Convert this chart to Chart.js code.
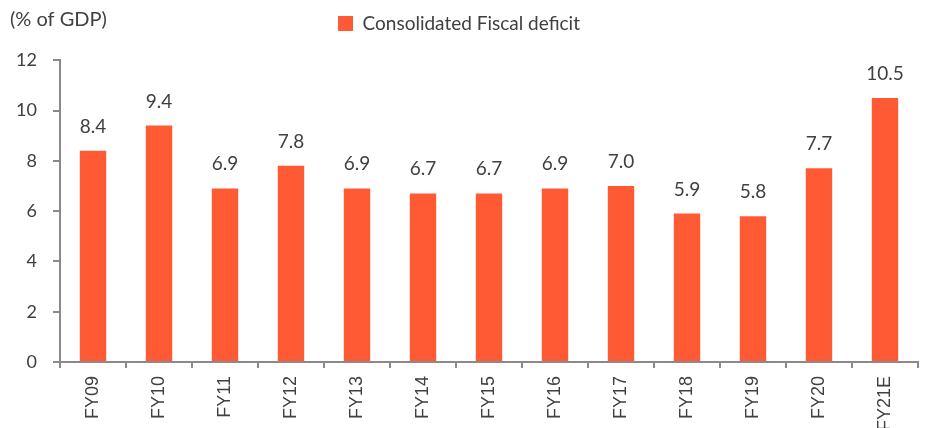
<!DOCTYPE html>
<html>
<head>
<meta charset="utf-8">
<script src="https://cdn.jsdelivr.net/npm/chart.js@4/dist/chart.umd.min.js"></script>
<style>
  html, body { margin: 0; padding: 0; background: #fff; }
  #wrap { width: 942px; height: 428px; }
</style>
</head>
<body>
<div id="wrap"><canvas id="myChart"></canvas></div>
<script>
// data
const years = ['FY09', 'FY10', 'FY11', 'FY12', 'FY13', 'FY14', 'FY15', 'FY16', 'FY17', 'FY18', 'FY19', 'FY20', 'FY21E'];
const deficit = [8.4, 9.4, 6.9, 7.8, 6.9, 6.7, 6.7, 6.9, 7.0, 5.9, 5.8, 7.7, 10.5];
const yTicks = [0, 2, 4, 6, 8, 10, 12];

const textColor = '#404040';
const axisColor = '#8a8a8a';

// value labels above the bars + unit text
const labelPlugin = {
    id: 'labels',
    afterDatasetsDraw(chart) {
        const c = chart.ctx;
        const meta = chart.getDatasetMeta(0);
        c.save();
        c.font = '19px Lato';
        c.fillStyle = textColor;
        c.textAlign = 'center';
        c.textBaseline = 'alphabetic';
        meta.data.forEach((bar, i) => {
            c.fillText(deficit[i].toFixed(1), bar.x, bar.y - 18);
        });
        c.textAlign = 'left';
        c.textBaseline = 'middle';
        c.font = '20px Lato';
        c.fillText('(% of GDP)', 10, 20);
        c.restore();
    }
};

const ctx = document.getElementById('myChart').getContext('2d');
const myChart = new Chart(ctx, {
    type: 'bar',
    data: {
        labels: years,
        datasets: [{
            label: 'Consolidated Fiscal deficit',
            data: deficit,
            backgroundColor: '#FF5A33',
            borderWidth: 0,
            categoryPercentage: 1,
            barPercentage: 0.4
        }]
    },
    options: {
        responsive: true,
        maintainAspectRatio: false,
        animation: false,
        layout: { padding: { top: 4, right: 24, left: 0, bottom: 0 } },
        plugins: {
            legend: {
                labels: {
                    boxWidth: 15,
                    boxHeight: 15,
                    padding: 10,
                    color: textColor,
                    font: { family: 'Lato', size: 19 }
                }
            },
            // spacer between legend and plot area
            title: {
                display: true,
                text: ' ',
                weight: 500,
                font: { size: 1 },
                padding: { top: 0, bottom: 16 }
            },
            tooltip: { enabled: false }
        },
        scales: {
            x: {
                grid: { drawOnChartArea: false, tickLength: 6, color: axisColor, lineWidth: 2 },
                border: { color: axisColor, width: 2 },
                ticks: {
                    minRotation: 90,
                    maxRotation: 90,
                    padding: 8,
                    color: textColor,
                    font: { family: 'Liberation Sans', size: 18 }
                },
                afterFit(scale) { scale.height = 66; }
            },
            y: {
                min: 0,
                max: 12,
                afterBuildTicks(scale) { scale.ticks = yTicks.map(v => ({ value: v })); },
                grid: { drawOnChartArea: false, tickLength: 7, color: axisColor, lineWidth: 2 },
                border: { color: axisColor, width: 2 },
                ticks: {
                    padding: 16,
                    color: textColor,
                    font: { family: 'Lato', size: 18 }
                },
                afterFit(scale) { scale.width = 60; }
            }
        }
    },
    plugins: [labelPlugin]
});
</script>
</body>
</html>
